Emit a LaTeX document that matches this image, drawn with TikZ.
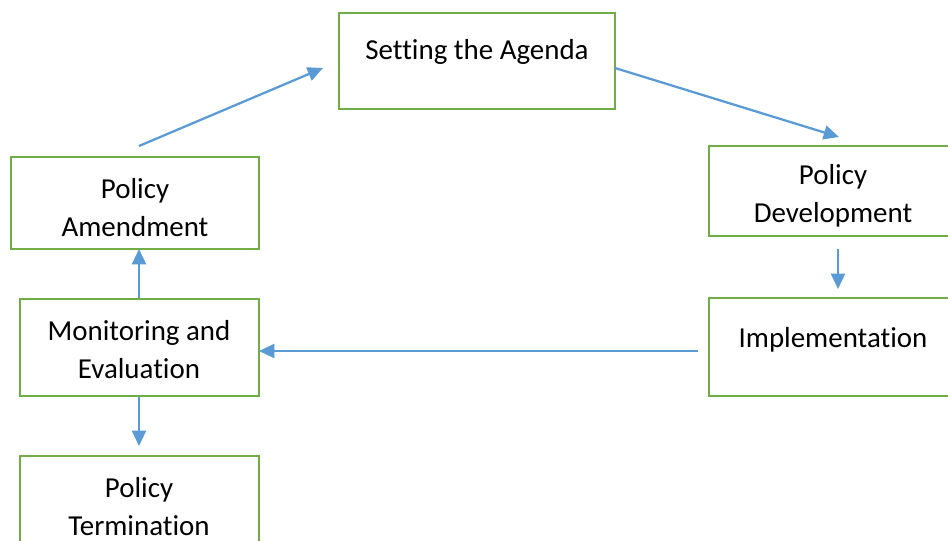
\documentclass[tikz,border=0pt]{standalone}
\usepackage{fontspec}
\setmainfont{Carlito}[Ligatures={NoCommon}]
\usetikzlibrary{arrows.meta}
\definecolor{bgreen}{HTML}{70AD47}
\definecolor{ablue}{HTML}{5B9BD5}
\begin{document}
\begin{tikzpicture}[x=0.75pt,y=-0.75pt,
  box/.style 2 args={draw=bgreen, line width=2.1pt, minimum width=#1*0.75pt, minimum height=#2*0.75pt, inner sep=0pt},
  txt/.style={font=\fontsize{21.7}{28.5}\selectfont, align=center, inner sep=0pt},
  arr/.style={draw=ablue, line width=1.7pt, -{Triangle[length=11.5pt,width=10.5pt]}}]
\useasboundingbox (0,0) rectangle (948,540);
\clip (0,0) rectangle (948,540);
% boxes
\node[box={276}{96}] (agenda) at (477,61) {};
\node[box={250}{90}] (dev) at (834,191) {};
\node[box={250}{98}] (impl) at (834,347) {};
\node[box={248}{92}] (amend) at (135,203) {};
\node[box={239}{97}] (monitor) at (139.5,347.5) {};
\node[box={239}{100}] (term) at (139.5,506) {};
% texts
\node[txt] (agendaT) at (477,52) {Setting the Agenda};
\node[txt] (devT) at (833,196) {Policy\\Development};
\node[txt] (implT) at (833,339.5) {Implementation};
\node[txt] (amendT) at (135,208) {Policy\\Amendment};
\node[txt] (monitorT) at (139,350) {Monitoring and\\Evaluation};
\node[txt] (termT) at (139,507) {Policy\\Termination};
% arrow end points
\coordinate (p1) at (139,146);
\coordinate (p2) at (323,68);
\coordinate (p3) at (615,68);
\coordinate (p4) at (839,137);
\coordinate (p5) at (838,249);
\coordinate (p6) at (838,289);
\coordinate (p7) at (698,351);
\coordinate (p8) at (259,351);
\coordinate (p9) at (139,298);
\coordinate (p10) at (139,249);
\coordinate (p11) at (139,397);
\coordinate (p12) at (139,446);
% arrows
\draw[arr] (p1) -- (p2);
\draw[arr] (p3) -- (p4);
\draw[arr] (p5) -- (p6);
\draw[arr] (p7) -- (p8);
\draw[arr] (p9) -- (p10);
\draw[arr] (p11) -- (p12);
\end{tikzpicture}
\end{document}
